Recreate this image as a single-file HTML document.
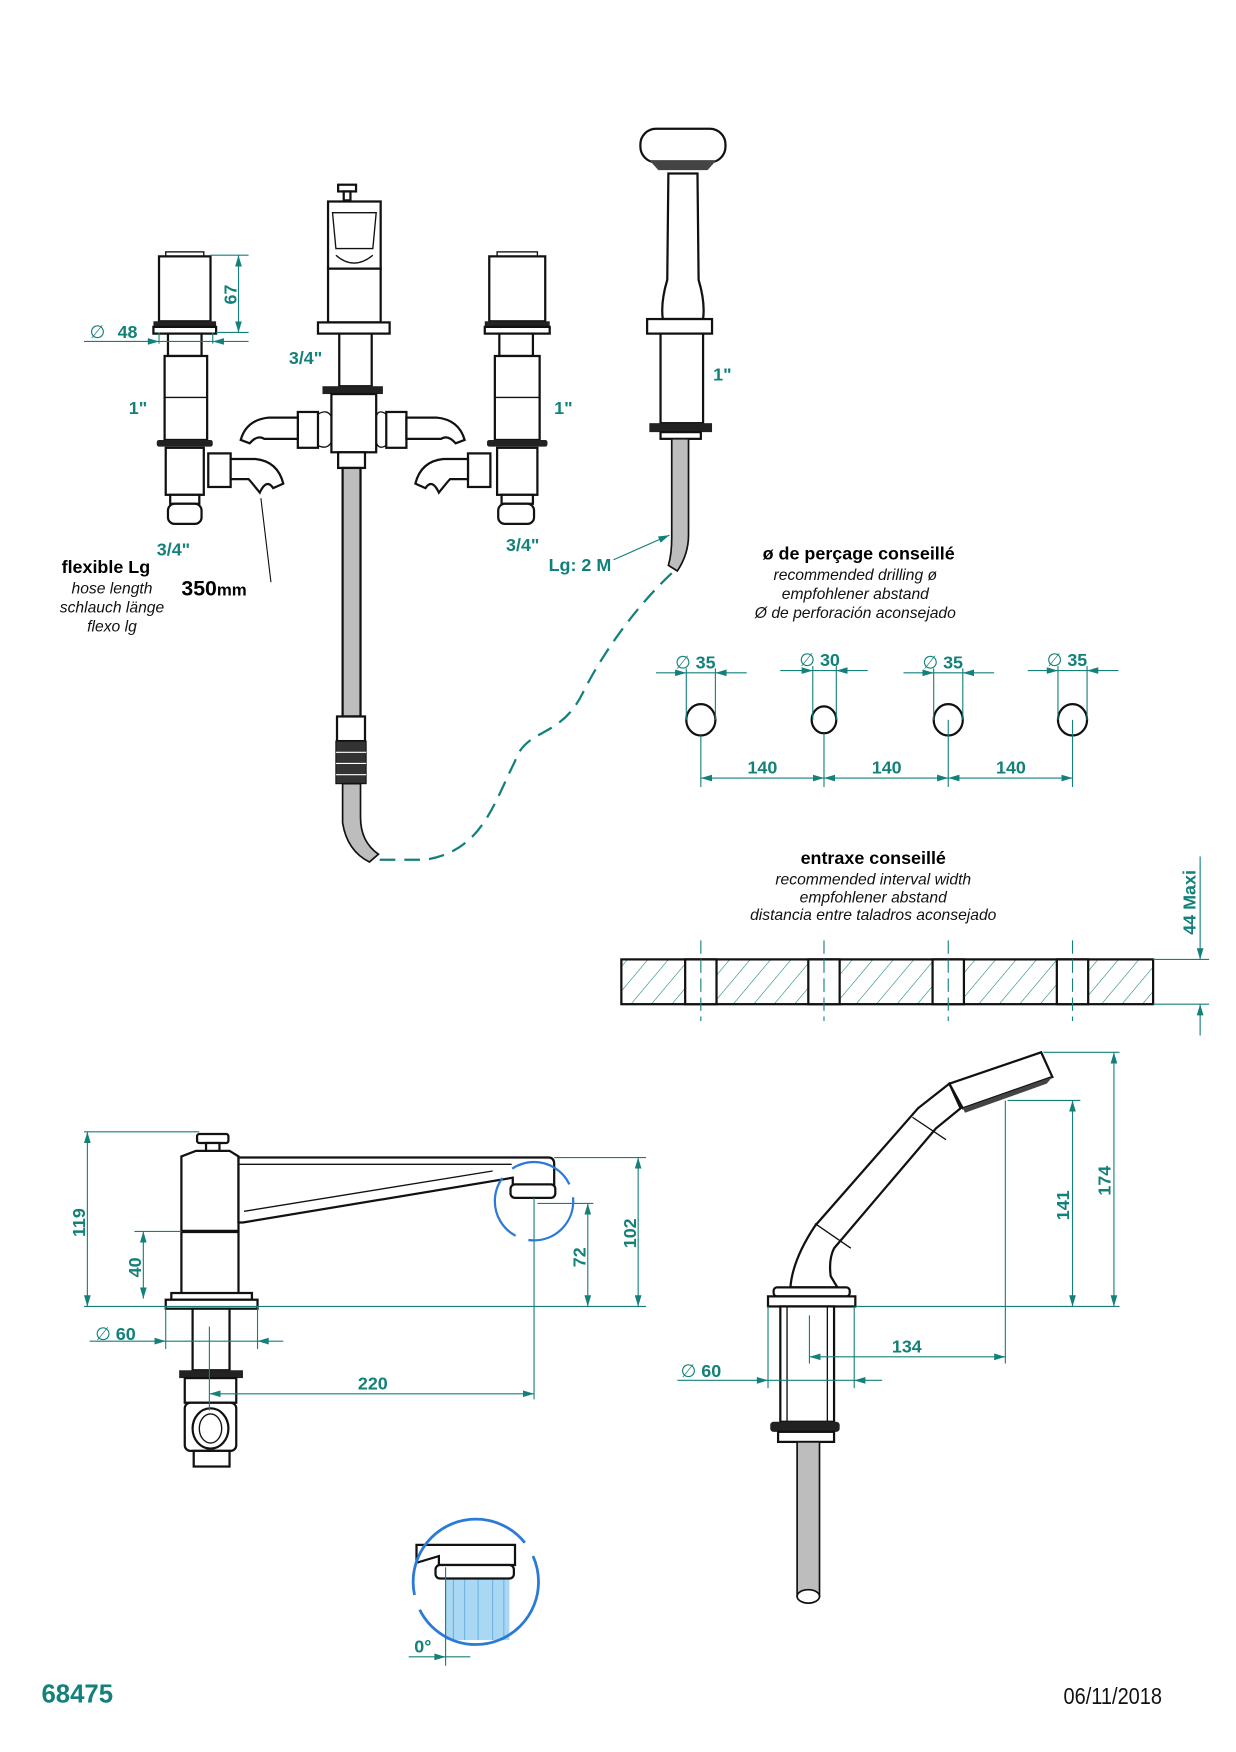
<!DOCTYPE html>
<html><head><meta charset="utf-8"><style>
html,body{margin:0;padding:0;background:#fff;}
svg{display:block;}
text{font-family:"Liberation Sans",sans-serif;}
.t{fill:#13807a;font-weight:bold;font-size:16px;}
.d{stroke:#13807a;stroke-width:1;fill:none;}
.k{stroke:#111;stroke-width:2;fill:#fff;}
.k1{stroke:#111;stroke-width:1.2;fill:none;}
.i{font-style:italic;font-size:14px;fill:#111;}
</style></head><body>
<svg width="1236" height="1752" viewBox="0 0 1104 1565" xmlns="http://www.w3.org/2000/svg">
<defs>
<marker id="a" viewBox="0 0 10 6" refX="10" refY="3" markerWidth="10" markerHeight="6" orient="auto-start-reverse" markerUnits="userSpaceOnUse"><path d="M0,0L10,3L0,6z" fill="#13807a"/></marker>
<pattern id="h" width="14" height="14" patternUnits="userSpaceOnUse" patternTransform="rotate(40)"><line x1="0" y1="0" x2="0" y2="14" stroke="#13807a" stroke-width="1"/></pattern>
</defs>

<!-- ===== LEFT VALVE ===== -->
<g>
<rect class="k" x="142" y="229" width="46" height="58"/>
<rect class="k1" x="148" y="225" width="34" height="4"/>
<rect x="137" y="287" width="56" height="5" fill="#222"/>
<rect class="k" x="137" y="292" width="56" height="6"/>
<rect class="k" x="150" y="298" width="30" height="20"/>
<rect class="k" x="147" y="318" width="38" height="75"/>
<line class="k1" x1="147" y1="355" x2="185" y2="355"/>
<rect x="140" y="393" width="50" height="6" fill="#222" rx="2"/>
<rect class="k" x="148" y="400" width="34" height="42"/>
<rect class="k" x="152" y="442" width="26" height="8"/>
<rect class="k" x="150" y="450" width="30" height="18" rx="6"/>
<rect class="k" x="186" y="405" width="20" height="30"/>
<path class="k" d="M206,410 L228,410 Q248,412 253,432 L244,436 Q238,427 232,440 Q224,430 222,428 L206,428z"/>
</g>
<!-- dims left -->
<line class="d" x1="188" y1="228" x2="222" y2="228"/>
<line class="d" x1="193" y1="297" x2="222" y2="297"/>
<line class="d" x1="213" y1="228" x2="213" y2="297" marker-start="url(#a)" marker-end="url(#a)"/>
<text class="t" transform="translate(211,272) rotate(-90)">67</text>
<line class="d" x1="75" y1="305" x2="222" y2="305"/>
<line class="d" x1="142" y1="297" x2="142" y2="307"/>
<line class="d" x1="190" y1="297" x2="190" y2="307"/>
<path d="M142,305l-10,-3v6z M190,305l10,-3v6z" fill="#13807a"/>
<text class="t" x="80" y="302" style="font-weight:normal">∅</text>
<text class="t" x="105" y="302">48</text>
<text class="t" x="115" y="370">1"</text>
<text class="t" x="140" y="496">3/4"</text>

<!-- ===== CENTER MIXER ===== -->
<g>
<rect class="k" x="302" y="165" width="16" height="6"/>
<rect class="k" x="307" y="171" width="6" height="8"/>
<path class="k" d="M293,180 L340,180 L340,240 L293,240z"/>
<path class="k1" d="M297,190 L336,190 L333,222 L300,222z"/>
<path class="k1" d="M300,228 Q316,242 333,228"/>
<rect class="k" x="293" y="240" width="47" height="48"/>
<rect class="k" x="284" y="288" width="64" height="10"/>
<rect class="k" x="303" y="298" width="29" height="47"/>
<rect x="288" y="345" width="54" height="7" fill="#222"/>
<rect class="k" x="296" y="352" width="40" height="52"/>
<rect class="k" x="266" y="368" width="18" height="32"/>
<rect class="k" x="345" y="368" width="18" height="32"/>
<path class="k1" d="M284,370 Q292,365 296,372 M284,398 Q292,402 296,395 M345,370 Q338,365 336,372 M345,398 Q338,402 336,395"/>
<path class="k" d="M266,373 L240,373 Q220,375 215,393 L223,396 Q230,388 236,392 L244,392 L266,392z"/>
<path class="k" d="M363,373 L390,373 Q410,375 415,393 L407,396 Q400,388 394,392 L386,392 L363,392z"/>
<rect class="k" x="302" y="404" width="24" height="14"/>
<rect x="306" y="418" width="16" height="222" fill="#bdbdbd" stroke="#111" stroke-width="2"/>
<rect class="k" x="301" y="640" width="25" height="22"/>
<rect x="300" y="662" width="27" height="38" fill="#333" stroke="#111"/>
<line x1="300" y1="672" x2="327" y2="672" stroke="#fff"/><line x1="300" y1="682" x2="327" y2="682" stroke="#fff"/><line x1="300" y1="692" x2="327" y2="692" stroke="#fff"/>
<path d="M306,700 L306,735 Q310,760 330,770 L338,763 Q322,752 322,730 L322,700z" fill="#bdbdbd" stroke="#111" stroke-width="1.5"/>
</g>
<text class="t" x="258" y="325">3/4"</text>

<!-- ===== RIGHT VALVE ===== -->
<g>
<rect class="k" x="437" y="229" width="50" height="58"/>
<rect class="k1" x="444" y="225" width="36" height="4"/>
<rect x="433" y="287" width="58" height="5" fill="#222"/>
<rect class="k" x="433" y="292" width="58" height="6"/>
<rect class="k" x="446" y="298" width="30" height="20"/>
<rect class="k" x="442" y="318" width="40" height="75"/>
<line class="k1" x1="442" y1="355" x2="482" y2="355"/>
<rect x="435" y="393" width="54" height="6" fill="#222" rx="2"/>
<rect class="k" x="444" y="400" width="36" height="42"/>
<rect class="k" x="448" y="442" width="28" height="8"/>
<rect class="k" x="445" y="450" width="32" height="18" rx="6"/>
<rect class="k" x="418" y="405" width="20" height="30"/>
<path class="k" d="M418,410 L396,410 Q376,412 371,432 L380,436 Q386,427 392,440 Q400,430 402,428 L418,428z"/>
</g>
<text class="t" x="495" y="370">1"</text>
<text class="t" x="452" y="492">3/4"</text>

<!-- ===== HAND SHOWER TOP ===== -->
<g>
<rect class="k" x="572" y="115" width="76" height="30" rx="14"/>
<path d="M580,143 L640,143 L632,152 L588,152z" fill="#444"/>
<path class="k" d="M597,155 L623,155 L624,250 Q630,270 628,285 L592,285 Q590,270 596,250z"/>
<rect class="k" x="578" y="285" width="58" height="13"/>
<rect class="k" x="590" y="298" width="38" height="80"/>
<rect x="580" y="378" width="56" height="8" fill="#222"/>
<rect class="k" x="590" y="386" width="36" height="6"/>
<path d="M600,392 L600,480 Q600,495 597,505 L605,510 Q615,495 615,478 L615,392z" fill="#bdbdbd" stroke="#111" stroke-width="1.5"/>
</g>
<text class="t" x="637" y="340">1"</text>
<text class="t" x="490" y="510">Lg: 2 M</text>
<line class="d" x1="548" y1="500" x2="598" y2="478" marker-end="url(#a)"/>
<path d="M600,512 C570,540 540,580 520,620 C500,660 470,650 460,680 C440,720 430,760 380,768 L332,768" fill="none" stroke="#13807a" stroke-width="2" stroke-dasharray="14,8"/>

<!-- labels left -->
<text x="55" y="512" style="font-weight:bold;font-size:16px">flexible Lg</text>
<text class="i" x="100" y="530" text-anchor="middle">hose length</text>
<text class="i" x="100" y="547" text-anchor="middle">schlauch länge</text>
<text class="i" x="100" y="564" text-anchor="middle">flexo lg</text>
<text x="162" y="532" style="font-weight:bold;font-size:19px">350<tspan style="font-size:15px">mm</tspan></text>
<line x1="242" y1="520" x2="233" y2="445" stroke="#111" stroke-width="1"/>

<!-- ===== DRILLING ===== -->
<text x="767" y="500" text-anchor="middle" style="font-weight:bold;font-size:16px">ø de perçage conseillé</text>
<text class="i" x="764" y="518" text-anchor="middle">recommended drilling ø</text>
<text class="i" x="764" y="535" text-anchor="middle">empfohlener abstand</text>
<text class="i" x="764" y="552" text-anchor="middle">Ø de perforación aconsejado</text>
<g>
<ellipse class="k" cx="626" cy="643" rx="13" ry="14"/>
<ellipse class="k" cx="736" cy="643" rx="11" ry="12"/>
<ellipse class="k" cx="847" cy="643" rx="13" ry="14"/>
<ellipse class="k" cx="958" cy="643" rx="13" ry="14"/>
</g>
<g class="d">
<line x1="586" y1="601" x2="667" y2="601"/><line x1="613" y1="597" x2="613" y2="643"/><line x1="639" y1="597" x2="639" y2="643"/>
<line x1="697" y1="599" x2="775" y2="599"/><line x1="726" y1="595" x2="726" y2="643"/><line x1="747" y1="595" x2="747" y2="643"/>
<line x1="807" y1="601" x2="888" y2="601"/><line x1="834" y1="597" x2="834" y2="643"/><line x1="860" y1="597" x2="860" y2="643"/>
<line x1="918" y1="599" x2="999" y2="599"/><line x1="945" y1="595" x2="945" y2="643"/><line x1="971" y1="595" x2="971" y2="643"/>
<line x1="626" y1="657" x2="626" y2="703"/><line x1="736" y1="655" x2="736" y2="703"/><line x1="847" y1="643" x2="847" y2="703"/><line x1="958" y1="643" x2="958" y2="703"/>
<line x1="626" y1="695" x2="736" y2="695" marker-start="url(#a)" marker-end="url(#a)"/>
<line x1="736" y1="695" x2="847" y2="695" marker-start="url(#a)" marker-end="url(#a)"/>
<line x1="847" y1="695" x2="958" y2="695" marker-start="url(#a)" marker-end="url(#a)"/>
</g>
<path d="M613,601l-10,-3v6z M639,601l10,-3v6z M726,599l-10,-3v6z M747,599l10,-3v6z M834,601l-10,-3v6z M860,601l10,-3v6z M945,599l-10,-3v6z M971,599l10,-3v6z" fill="#13807a"/>
<text class="t" x="603" y="597"><tspan style="font-weight:normal">∅</tspan> 35</text>
<text class="t" x="714" y="595"><tspan style="font-weight:normal">∅</tspan> 30</text>
<text class="t" x="824" y="597"><tspan style="font-weight:normal">∅</tspan> 35</text>
<text class="t" x="935" y="595"><tspan style="font-weight:normal">∅</tspan> 35</text>
<text class="t" x="681" y="691" text-anchor="middle">140</text>
<text class="t" x="792" y="691" text-anchor="middle">140</text>
<text class="t" x="903" y="691" text-anchor="middle">140</text>

<!-- ===== ENTRAXE ===== -->
<text x="780" y="772" text-anchor="middle" style="font-weight:bold;font-size:16px">entraxe conseillé</text>
<text class="i" x="780" y="790" text-anchor="middle">recommended interval width</text>
<text class="i" x="780" y="806" text-anchor="middle">empfohlener abstand</text>
<text class="i" x="780" y="822" text-anchor="middle">distancia entre taladros aconsejado</text>
<rect x="555" y="857" width="475" height="40" fill="url(#h)" stroke="#111" stroke-width="2"/>
<g fill="#fff" stroke="#111" stroke-width="2">
<rect x="612" y="857" width="28" height="40"/><rect x="722" y="857" width="28" height="40"/>
<rect x="833" y="857" width="28" height="40"/><rect x="944" y="857" width="28" height="40"/>
</g>
<g class="d" stroke-dasharray="12,5">
<line x1="626" y1="840" x2="626" y2="912"/><line x1="736" y1="840" x2="736" y2="912"/>
<line x1="847" y1="840" x2="847" y2="912"/><line x1="958" y1="840" x2="958" y2="912"/>
</g>
<line class="d" x1="1030" y1="857" x2="1080" y2="857"/><line class="d" x1="1030" y1="897" x2="1080" y2="897"/>
<line class="d" x1="1072" y1="765" x2="1072" y2="857" marker-end="url(#a)"/>
<line class="d" x1="1072" y1="925" x2="1072" y2="897" marker-end="url(#a)"/>
<text class="t" transform="translate(1068,835) rotate(-90)">44  Maxi</text>

<!-- ===== BOTTOM LEFT SPOUT ===== -->
<g>
<rect class="k" x="176" y="1013" width="28" height="8" rx="2"/>
<rect class="k" x="184" y="1021" width="12" height="9"/>
<path class="k" d="M162,1033 L175,1028 L205,1028 L213,1033 L213,1160 L162,1160z"/>
<line x1="162" y1="1100" x2="213" y2="1100" stroke="#111" stroke-width="3"/>
<path class="k" d="M213,1034 L490,1034 Q495,1034 495,1040 L495,1060 L458,1060 L458,1052 L217,1092 L213,1092z"/>
<path class="k1" d="M213,1040 L457,1040 M218,1082 L440,1046"/>
<rect class="k" x="456" y="1058" width="40" height="12" rx="4"/>
<rect class="k" x="153" y="1155" width="72" height="6"/>
<rect class="k" x="148" y="1161" width="82" height="8"/>
<rect class="k" x="172" y="1169" width="33" height="55"/>
<rect x="160" y="1224" width="57" height="7" fill="#222"/>
<rect class="k" x="165" y="1231" width="46" height="22"/>
<rect class="k" x="165" y="1253" width="46" height="43" rx="5"/>
<ellipse class="k" cx="188" cy="1276" rx="16" ry="18"/>
<ellipse class="k1" cx="188" cy="1276" rx="10" ry="13"/>
<rect class="k" x="173" y="1296" width="32" height="14"/>
</g>
<g class="d">
<line x1="75" y1="1011" x2="178" y2="1011"/>
<line x1="75" y1="1167" x2="577" y2="1167"/>
<line x1="78" y1="1011" x2="78" y2="1167" marker-start="url(#a)" marker-end="url(#a)"/>
<line x1="120" y1="1100" x2="162" y2="1100"/>
<line x1="128" y1="1100" x2="128" y2="1160" marker-start="url(#a)" marker-end="url(#a)"/>
<line x1="495" y1="1034" x2="577" y2="1034"/>
<line x1="570" y1="1034" x2="570" y2="1167" marker-start="url(#a)" marker-end="url(#a)"/>
<line x1="480" y1="1075" x2="530" y2="1075"/>
<line x1="525" y1="1075" x2="525" y2="1167" marker-start="url(#a)" marker-end="url(#a)"/>
<line x1="477" y1="1070" x2="477" y2="1250"/>
<line x1="148" y1="1167" x2="148" y2="1205"/><line x1="230" y1="1167" x2="230" y2="1205"/>
<line x1="80" y1="1198" x2="253" y2="1198"/>
<line x1="187" y1="1185" x2="187" y2="1260"/>
<line x1="187" y1="1245" x2="477" y2="1245" marker-start="url(#a)" marker-end="url(#a)"/>
</g>
<path d="M148,1198l-10,-3v6z M230,1198l10,-3v6z" fill="#13807a"/>
<text class="t" transform="translate(76,1105) rotate(-90)">119</text>
<text class="t" transform="translate(126,1141) rotate(-90)">40</text>
<text class="t" transform="translate(523,1132) rotate(-90)">72</text>
<text class="t" transform="translate(568,1115) rotate(-90)">102</text>
<text class="t" x="85" y="1197"><tspan style="font-weight:normal">∅</tspan>  60</text>
<text class="t" x="333" y="1241" text-anchor="middle">220</text>
<circle cx="477" cy="1073" r="35" fill="none" stroke="#2a7ad8" stroke-width="2" stroke-dasharray="60,12"/>

<!-- ===== BOTTOM RIGHT HAND SHOWER ===== -->
<g>
<path class="k" d="M706,1150 Q708,1125 728,1095 L820,990 L848,968 L858,990 L836,1008 L745,1115 Q740,1125 742,1140 L748,1150z"/>
<path class="k" d="M848,968 L930,940 L940,962 L860,990z"/>
<path d="M860,990 L940,962 L935,968 L862,994z" fill="#444"/>
<line class="k1" x1="815" y1="998" x2="845" y2="1018"/>
<line class="k1" x1="728" y1="1093" x2="760" y2="1115" stroke-width="3"/>
<rect class="k" x="691" y="1150" width="68" height="8" rx="3"/>
<rect class="k" x="686" y="1158" width="78" height="9"/>
<rect class="k" x="697" y="1167" width="48" height="103"/>
<line class="k1" x1="703" y1="1167" x2="703" y2="1270"/><line class="k1" x1="739" y1="1167" x2="739" y2="1270"/>
<rect x="688" y="1270" width="62" height="9" fill="#222" rx="3"/>
<rect class="k" x="695" y="1279" width="50" height="9"/>
<rect x="712" y="1288" width="20" height="138" fill="#bdbdbd" stroke="#111" stroke-width="1.5"/>
<ellipse cx="722" cy="1426" rx="10" ry="6" fill="#fff" stroke="#111" stroke-width="1.5"/>
</g>
<g class="d">
<line x1="932" y1="940" x2="1000" y2="940"/>
<line x1="900" y1="983" x2="965" y2="983"/>
<line x1="764" y1="1167" x2="1000" y2="1167"/>
<line x1="995" y1="940" x2="995" y2="1167" marker-start="url(#a)" marker-end="url(#a)"/>
<line x1="958" y1="983" x2="958" y2="1167" marker-start="url(#a)" marker-end="url(#a)"/>
<line x1="898" y1="983" x2="898" y2="1218"/>
<line x1="723" y1="1175" x2="723" y2="1218"/>
<line x1="723" y1="1212" x2="898" y2="1212" marker-start="url(#a)" marker-end="url(#a)"/>
<line x1="686" y1="1167" x2="686" y2="1240"/><line x1="763" y1="1167" x2="763" y2="1240"/>
<line x1="605" y1="1233" x2="788" y2="1233"/>
</g>
<path d="M686,1233l-10,-3v6z M763,1233l10,-3v6z" fill="#13807a"/>
<text class="t" transform="translate(992,1068) rotate(-90)">174</text>
<text class="t" transform="translate(955,1090) rotate(-90)">141</text>
<text class="t" x="810" y="1208" text-anchor="middle">134</text>
<text class="t" x="608" y="1230"><tspan style="font-weight:normal">∅</tspan>  60</text>

<!-- ===== DETAIL CIRCLE ===== -->
<g>
<rect x="398" y="1410" width="57" height="55" fill="#a9d8f4"/>
<g stroke="#6fb4e0" stroke-width="1"><line x1="405" y1="1410" x2="405" y2="1465"/><line x1="415" y1="1410" x2="415" y2="1465"/><line x1="427" y1="1410" x2="427" y2="1465"/><line x1="440" y1="1410" x2="440" y2="1465"/><line x1="450" y1="1410" x2="450" y2="1465"/></g>
<path class="k" d="M372,1380 L460,1380 L460,1398 L392,1398 L392,1390 L372,1396z"/>
<rect class="k" x="389" y="1398" width="70" height="12" rx="4"/>
<circle cx="425" cy="1413" r="56" fill="none" stroke="#2a7ad8" stroke-width="2.5" stroke-dasharray="150,14"/>
<line class="d" x1="398" y1="1400" x2="398" y2="1488"/>
<line class="d" x1="365" y1="1480" x2="420" y2="1480"/>
<path d="M398,1480l-10,-3v6z" fill="#13807a"/>
<text class="t" x="370" y="1476">0°</text>
</g>

<!-- footer -->
<text x="37" y="1521" style="fill:#13807a;font-weight:bold;font-size:23px">68475</text>
<text x="950" y="1522" style="font-size:21px;fill:#111" transform="translate(950,0) scale(0.85,1) translate(-950,0)">06/11/2018</text>
</svg>
</body></html>
